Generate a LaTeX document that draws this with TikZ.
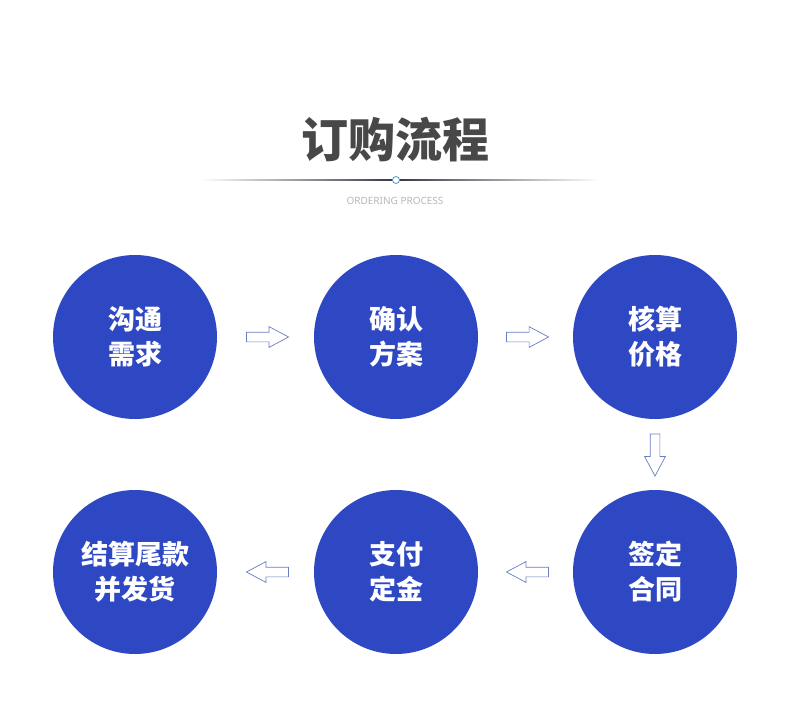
\documentclass[tikz,border=0pt]{standalone}
\usepackage{fontspec}
\usepackage{tikz}
\usetikzlibrary{shapes.arrows, calc}
\newfontfamily\cjk{Noto Sans CJK SC}
\newfontfamily\latinsans{Noto Sans}
\definecolor{stepblue}{RGB}{46,71,194}
\definecolor{arrowline}{RGB}{105,125,195}
\definecolor{titlegray}{RGB}{72,72,72}
\definecolor{rulegray}{RGB}{50,56,72}

\begin{document}
\begin{tikzpicture}[x=1pt, y=-1pt,
    % --- 样式 ---
    step_circle/.style={circle, fill=stepblue, minimum size=164pt, inner sep=0pt,
        text=white, align=center, font=\cjk\bfseries\fontsize{27}{35}\selectfont},
    flow_arrow/.style={single arrow, draw=arrowline, fill=white, line width=0.7pt,
        minimum height=42pt, inner sep=4.5pt,
        single arrow head extend=5.5pt, single arrow tip angle=56},
    title_text/.style={text=titlegray, font=\cjk\bfseries\fontsize{47}{50}\selectfont},
    sub_text/.style={text=black!28, font=\latinsans\fontsize{10}{11}\selectfont}
]
    \fill[white] (0,0) rectangle (790,706);
    \useasboundingbox (0,0) rectangle (790,706);

    % =========================================
    % 标题
    % =========================================
    \node[title_text] (title) at (395,140) {订购流程};
    \shade[left color=white, right color=rulegray] (200,179.4) rectangle (396,180.6);
    \shade[left color=rulegray, right color=white] (396,179.4) rectangle (600,180.6);
    \node[circle, draw=arrowline!80!cyan, fill=white, line width=0.8pt,
        minimum size=7pt, inner sep=0pt] (dot) at (396,180) {};
    \node[sub_text] (subtitle) at (395,201) {ORDERING PROCESS};

    % =========================================
    % 第一行 (左 -> 右)
    % =========================================
    \node[step_circle] (c1) at (135,337) {沟通\\需求};
    \node[step_circle] (c2) at (396,337) {确认\\方案};
    \node[step_circle] (c3) at (655,337) {核算\\价格};

    % =========================================
    % 第二行 (右 -> 左)
    % =========================================
    \node[step_circle] (c4) at (655,572) {签定\\合同};
    \node[step_circle] (c5) at (396,572) {支付\\定金};
    \node[step_circle] (c6) at (135,572) {结算尾款\\并发货};

    % --- 箭头 ---
    \node[flow_arrow, xshift=-2.5pt] (a12) at ($(c1)!0.5!(c2)$) {};
    \node[flow_arrow, xshift=-2.5pt] (a23) at ($(c2)!0.5!(c3)$) {};
    \node[flow_arrow, shape border rotate=270, yshift=4pt] (a34) at ($(c3)!0.5!(c4)$) {};
    \node[flow_arrow, shape border rotate=180, xshift=6.5pt] (a45) at ($(c4)!0.5!(c5)$) {};
    \node[flow_arrow, shape border rotate=180, xshift=6.5pt] (a56) at ($(c5)!0.5!(c6)$) {};

\end{tikzpicture}
\end{document}
